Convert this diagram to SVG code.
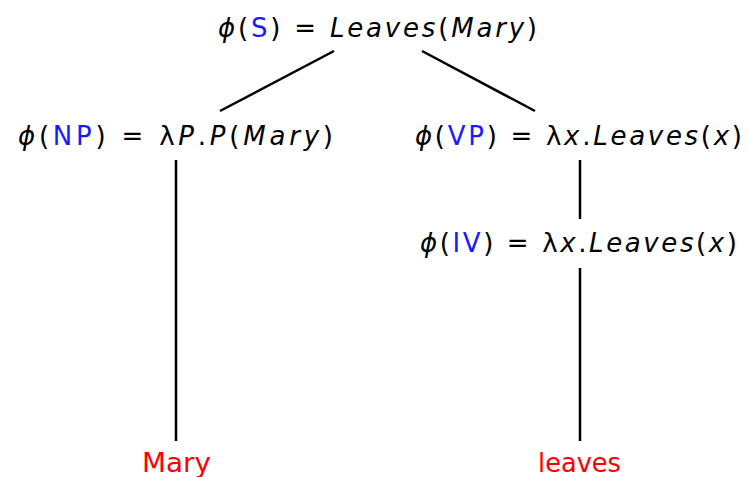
<svg xmlns="http://www.w3.org/2000/svg" width="747" height="477" viewBox="0 0 747 477">
<style>
text{font-family:"DejaVu Sans","Open Sans",sans-serif;font-size:26px;fill:#000}
.i{font-style:italic}
.b{fill:#1a1aff}
.r{fill:#ff0000}
.e{stroke:#000;stroke-width:2.5;fill:none}
</style>
<rect width="747" height="477" fill="#fff"/>
<g id="connectors">
<line class="e" x1="334" y1="51" x2="220" y2="111"/>
<line class="e" x1="422" y1="51" x2="535" y2="111"/>
<line class="e" x1="176" y1="160" x2="176" y2="441"/>
<line class="e" x1="580" y1="160" x2="580" y2="219"/>
<line class="e" x1="580" y1="268" x2="580" y2="441"/>
</g>
<g id="S"><text x="218" y="37" textLength="319" lengthAdjust="spacing"><tspan class="i">ϕ</tspan>(<tspan class="b">S</tspan>) = <tspan class="i">Leaves</tspan>(<tspan class="i">Mary</tspan>)</text></g>
<g id="NP"><text x="18" y="145" textLength="315" lengthAdjust="spacing"><tspan class="i">ϕ</tspan>(<tspan class="b">NP</tspan>) = λ<tspan class="i">P</tspan>.<tspan class="i">P</tspan>(<tspan class="i">Mary</tspan>)</text></g>
<g id="VP"><text x="415" y="145" textLength="327" lengthAdjust="spacing"><tspan class="i">ϕ</tspan>(<tspan class="b">VP</tspan>) = λ<tspan class="i">x</tspan>.<tspan class="i">Leaves</tspan>(<tspan class="i">x</tspan>)</text></g>
<g id="IV"><text x="420" y="252" textLength="317" lengthAdjust="spacing"><tspan class="i">ϕ</tspan>(<tspan class="b">IV</tspan>) = λ<tspan class="i">x</tspan>.<tspan class="i">Leaves</tspan>(<tspan class="i">x</tspan>)</text></g>
<g id="Mary"><text class="r" x="142" y="472" textLength="69" lengthAdjust="spacingAndGlyphs">Mary</text></g>
<g id="leaves"><text class="r" x="538" y="472" textLength="83" lengthAdjust="spacingAndGlyphs">leaves</text></g>
</svg>
